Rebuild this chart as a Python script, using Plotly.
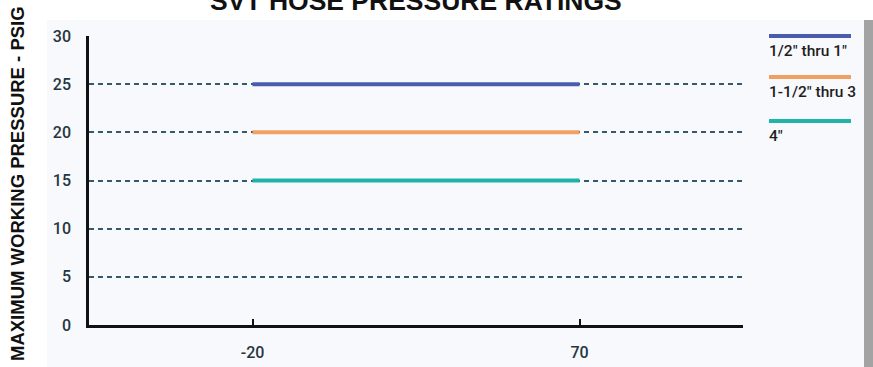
import plotly.graph_objects as go

# Temperature span (deg F) over which each rating applies
temps = [-20, 70]

# Hose size classes and their maximum working pressure (psig)
sizes = ['1/2" thru 1"', '1-1/2" thru 3"', '4"']
legend_text = ['1/2" thru 1"', '1-1/2" thru 3', '4"']
pressures = [25, 20, 15]
colors = ["#4a5bb0", "#f2a062", "#1fb3aa"]

y_ticks = [0, 5, 10, 15, 20, 25, 30]

W, H = 873, 367
L, R, T, B = 89, 130, 36, 42
pw, ph = W - L - R, H - T - B


def px(x):
    return (x - L) / pw


def py(y):
    return (H - B - y) / ph


cond = "Roboto, sans-serif"

fig = go.Figure()
for name, p, c in zip(sizes, pressures, colors):
    fig.add_trace(go.Scatter(
        x=temps, y=[p, p], mode="lines", name=name,
        line=dict(color=c, width=4), showlegend=False,
    ))

shapes = [
    # light panel behind the chart
    dict(type="rect", xref="paper", yref="paper", layer="below",
         x0=px(47), x1=px(864), y0=py(367), y1=py(20),
         fillcolor="#f8f9fc", line=dict(width=0)),
    # shaded edge on the right
    dict(type="rect", xref="paper", yref="paper", layer="below",
         x0=px(864), x1=px(873), y0=py(367), y1=py(20),
         fillcolor="#a3a3a3", line=dict(width=0)),
]
annotations = []

# custom legend: swatch line above its label
leg_y = [36, 77, 121]
for txt, c, yy in zip(legend_text, colors, leg_y):
    shapes.append(dict(type="line", xref="paper", yref="paper",
                       x0=px(769), x1=px(851), y0=py(yy), y1=py(yy),
                       line=dict(color=c, width=4)))
    annotations.append(dict(text=txt, xref="paper", yref="paper",
                            x=px(767), y=py(yy + 15), xanchor="left", yanchor="middle",
                            showarrow=False,
                            font=dict(family=cond, size=15.5, weight=500, color="#1e1e1e")))

annotations.append(dict(
    text="<b>SVT HOSE PRESSURE RATINGS</b>", xref="paper", yref="paper",
    x=px(416), y=py(1), xanchor="center", yanchor="middle", showarrow=False,
    font=dict(family="Liberation Sans, Arial, sans-serif", size=26.5, color="#111111")))

annotations.append(dict(
    text="<b>MAXIMUM WORKING PRESSURE - PSIG</b>", xref="paper", yref="paper",
    x=px(17), y=py(184), xanchor="center", yanchor="middle", textangle=-90,
    showarrow=False,
    font=dict(family="Liberation Sans, Arial, sans-serif", size=18.5, color="#111111")))

fig.update_layout(
    width=W, height=H,
    margin=dict(l=L, r=R, t=T, b=B, autoexpand=False),
    paper_bgcolor="white", plot_bgcolor="rgba(0,0,0,0)",
    shapes=shapes, annotations=annotations,
    xaxis=dict(range=[-65, 115], tickvals=temps, ticktext=[str(t) for t in temps],
               automargin=False,
               showgrid=False, zeroline=False, showline=True, linecolor="#111111",
               linewidth=2.5, ticks="inside", ticklen=6, tickwidth=2, tickcolor="#111111",
               tickfont=dict(family=cond, size=16, weight=500, color="#263640"),
               ticklabelstandoff=11),
    yaxis=dict(range=[0, 30], tickvals=y_ticks, showgrid=True, gridcolor="#35596a",
               automargin=False,
               gridwidth=1.5, griddash="5px,4px", zeroline=False, showline=True,
               linecolor="#111111", linewidth=2.5, ticks="",
               tickfont=dict(family=cond, size=16, weight=500, color="#263640"),
               ticklabelstandoff=12),
)

fig.write_html("out.html")
